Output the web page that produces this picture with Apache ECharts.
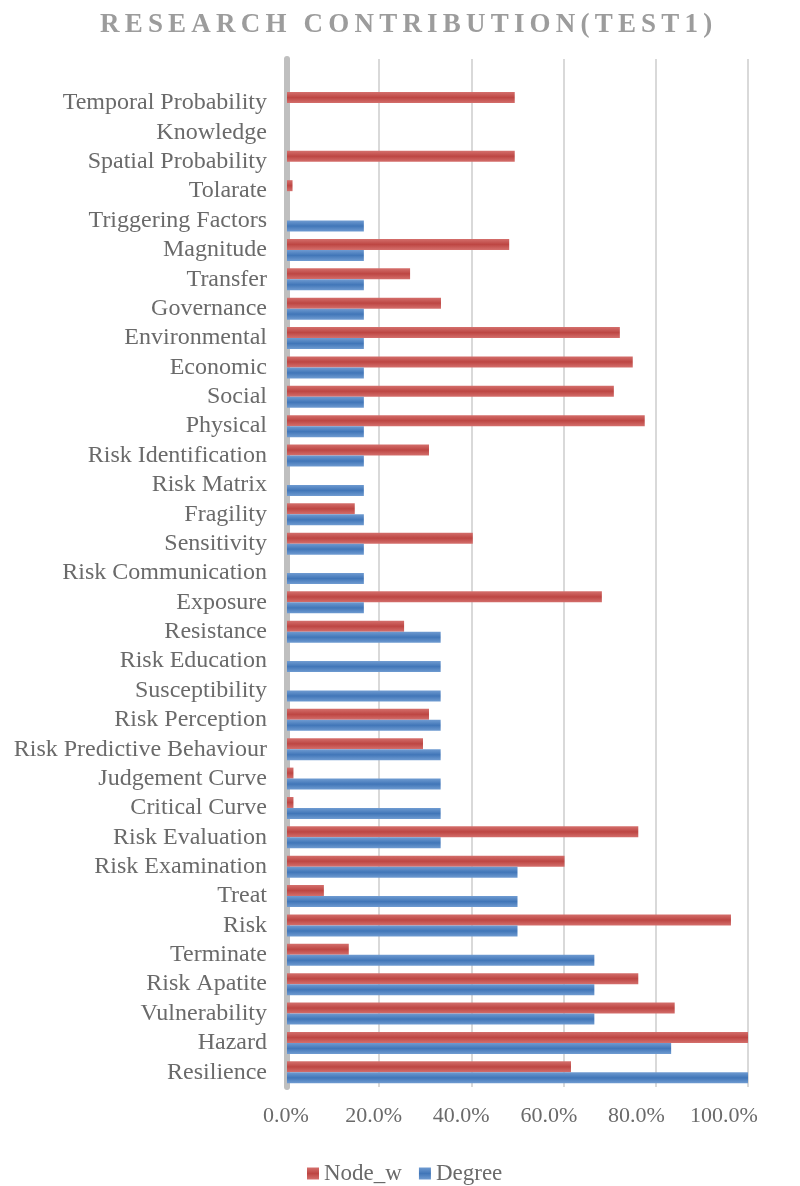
<!DOCTYPE html>
<html>
<head>
<meta charset="utf-8">
<title>Research Contribution (Test1)</title>
<script src="https://cdn.jsdelivr.net/npm/echarts@6/dist/echarts.min.js"></script>
<style>
  html, body { margin: 0; padding: 0; background: #ffffff; }
  #wrap { position: relative; width: 800px; height: 1186px; }
  #chart { position: absolute; left: 0; top: 0; width: 800px; height: 1186px; }
  #head { position: absolute; left: 0; top: 0; width: 800px; height: 50px; }
</style>
</head>
<body>
<div id="wrap">
  <div id="chart"></div>
  <div id="head"></div>
</div>
<script>
// Categories listed bottom to top; the blank entry leaves a free band above the last row.
const categories = [
  'Resilience', 'Hazard', 'Vulnerability', 'Risk Apatite', 'Terminate', 'Risk', 'Treat',
  'Risk Examination', 'Risk Evaluation', 'Critical Curve', 'Judgement Curve',
  'Risk Predictive Behaviour', 'Risk Perception', 'Susceptibility', 'Risk Education',
  'Resistance', 'Exposure', 'Risk Communication', 'Sensitivity', 'Fragility', 'Risk Matrix',
  'Risk Identification', 'Physical', 'Social', 'Economic', 'Environmental', 'Governance',
  'Transfer', 'Magnitude', 'Triggering Factors', 'Tolarate', 'Spatial Probability',
  'Knowledge', 'Temporal Probability', ''
];

const degreeValues = [
  1.0, 0.8333, 0.6667, 0.6667, 0.6667, 0.5, 0.5,
  0.5, 0.3333, 0.3333, 0.3333,
  0.3333, 0.3333, 0.3333, 0.3333,
  0.3333, 0.1667, 0.1667, 0.1667, 0.1667, 0.1667,
  0.1667, 0.1667, 0.1667, 0.1667, 0.1667, 0.1667,
  0.1667, 0.1667, 0.1667, 0, 0,
  0, 0
];

const nodeWValues = [
  0.616, 1.0, 0.841, 0.762, 0.134, 0.963, 0.08,
  0.602, 0.762, 0.014, 0.014,
  0.295, 0.308, 0, 0,
  0.254, 0.683, 0, 0.403, 0.147, 0,
  0.308, 0.776, 0.709, 0.75, 0.722, 0.334,
  0.267, 0.482, 0, 0.012, 0.494,
  0, 0.494
];

const xTicks = [0, 0.2, 0.4, 0.6, 0.8, 1.0];
const titleText = 'RESEARCH CONTRIBUTION(TEST1)';
const legendNames = ['Node_w', 'Degree'];

const serif = '"Liberation Serif", "Times New Roman", serif';
const labelColor = '#6a6a6a';

function stripe(edge, mid) {
  return new echarts.graphic.LinearGradient(0, 0, 0, 1, [
    { offset: 0, color: edge },
    { offset: 0.5, color: mid },
    { offset: 1, color: edge }
  ]);
}
const redFill = stripe('#d46f6c', '#bd4643');
const blueFill = stripe('#6f9bd1', '#4176b8');

const tickRange = { min: xTicks[0], max: xTicks[xTicks.length - 1], interval: 0.2 };
const pct = v => (v * 100).toFixed(1) + '%';

const chart = echarts.init(document.getElementById('chart'), null, { renderer: 'canvas' });
chart.setOption({
  animation: false,
  backgroundColor: 'transparent',
  grid: [
    { left: 287, right: 52, top: 59, bottom: 99, containLabel: false },
    // percentage labels sit on a slightly narrower scale below the plot
    { left: 286, right: 76, top: 59, bottom: 99, containLabel: false }
  ],
  legend: {
    data: legendNames,
    top: 1157,
    left: 302,
    itemWidth: 12,
    itemHeight: 12,
    itemGap: 17,
    icon: 'rect',
    textStyle: { fontFamily: serif, fontSize: 23, color: labelColor }
  },
  xAxis: [
    {
      type: 'value',
      gridIndex: 0,
      ...tickRange,
      axisLine: { show: false },
      axisTick: { show: false },
      splitLine: { show: true, lineStyle: { color: '#d9d9d9', width: 2 } },
      axisLabel: { show: false }
    },
    {
      type: 'value',
      gridIndex: 1,
      ...tickRange,
      axisLine: { show: false },
      axisTick: { show: false },
      splitLine: { show: false },
      axisLabel: {
        fontFamily: serif,
        fontSize: 22,
        color: labelColor,
        margin: 18,
        formatter: pct
      }
    }
  ],
  yAxis: [
    {
      type: 'category',
      gridIndex: 0,
      data: categories,
      axisLine: { show: true, lineStyle: { color: '#bfbfbf', width: 6 } },
      axisTick: { show: false },
      axisLabel: {
        interval: 0,
        fontFamily: serif,
        fontSize: 24,
        color: labelColor,
        margin: 20
      }
    },
    {
      type: 'value',
      gridIndex: 1,
      show: false
    }
  ],
  series: [
    {
      name: 'Node_w',
      type: 'bar',
      data: nodeWValues,
      barWidth: 11,
      barGap: '0%',
      itemStyle: { color: redFill }
    },
    {
      name: 'Degree',
      type: 'bar',
      data: degreeValues,
      barWidth: 11,
      barGap: '0%',
      itemStyle: { color: blueFill }
    }
  ]
});

// Heading drawn by its own small instance so its letters can be spaced out.
const headDom = document.getElementById('head');
const head = echarts.init(headDom, null, { renderer: 'canvas' });
const headOption = {
  animation: false,
  backgroundColor: 'transparent',
  title: {
    text: titleText,
    left: 95,
    top: 7,
    textStyle: { fontFamily: serif, fontSize: 27, fontWeight: 'bold', color: '#9c9c9c' }
  }
};
head.setOption(headOption);
const headCanvas = headDom.querySelector('canvas');
if (headCanvas) {
  const ctx = headCanvas.getContext('2d');
  if ('letterSpacing' in ctx) {
    ctx.letterSpacing = '5.2px';
    head.clear();
    head.setOption(headOption);
  }
}
</script>
</body>
</html>
